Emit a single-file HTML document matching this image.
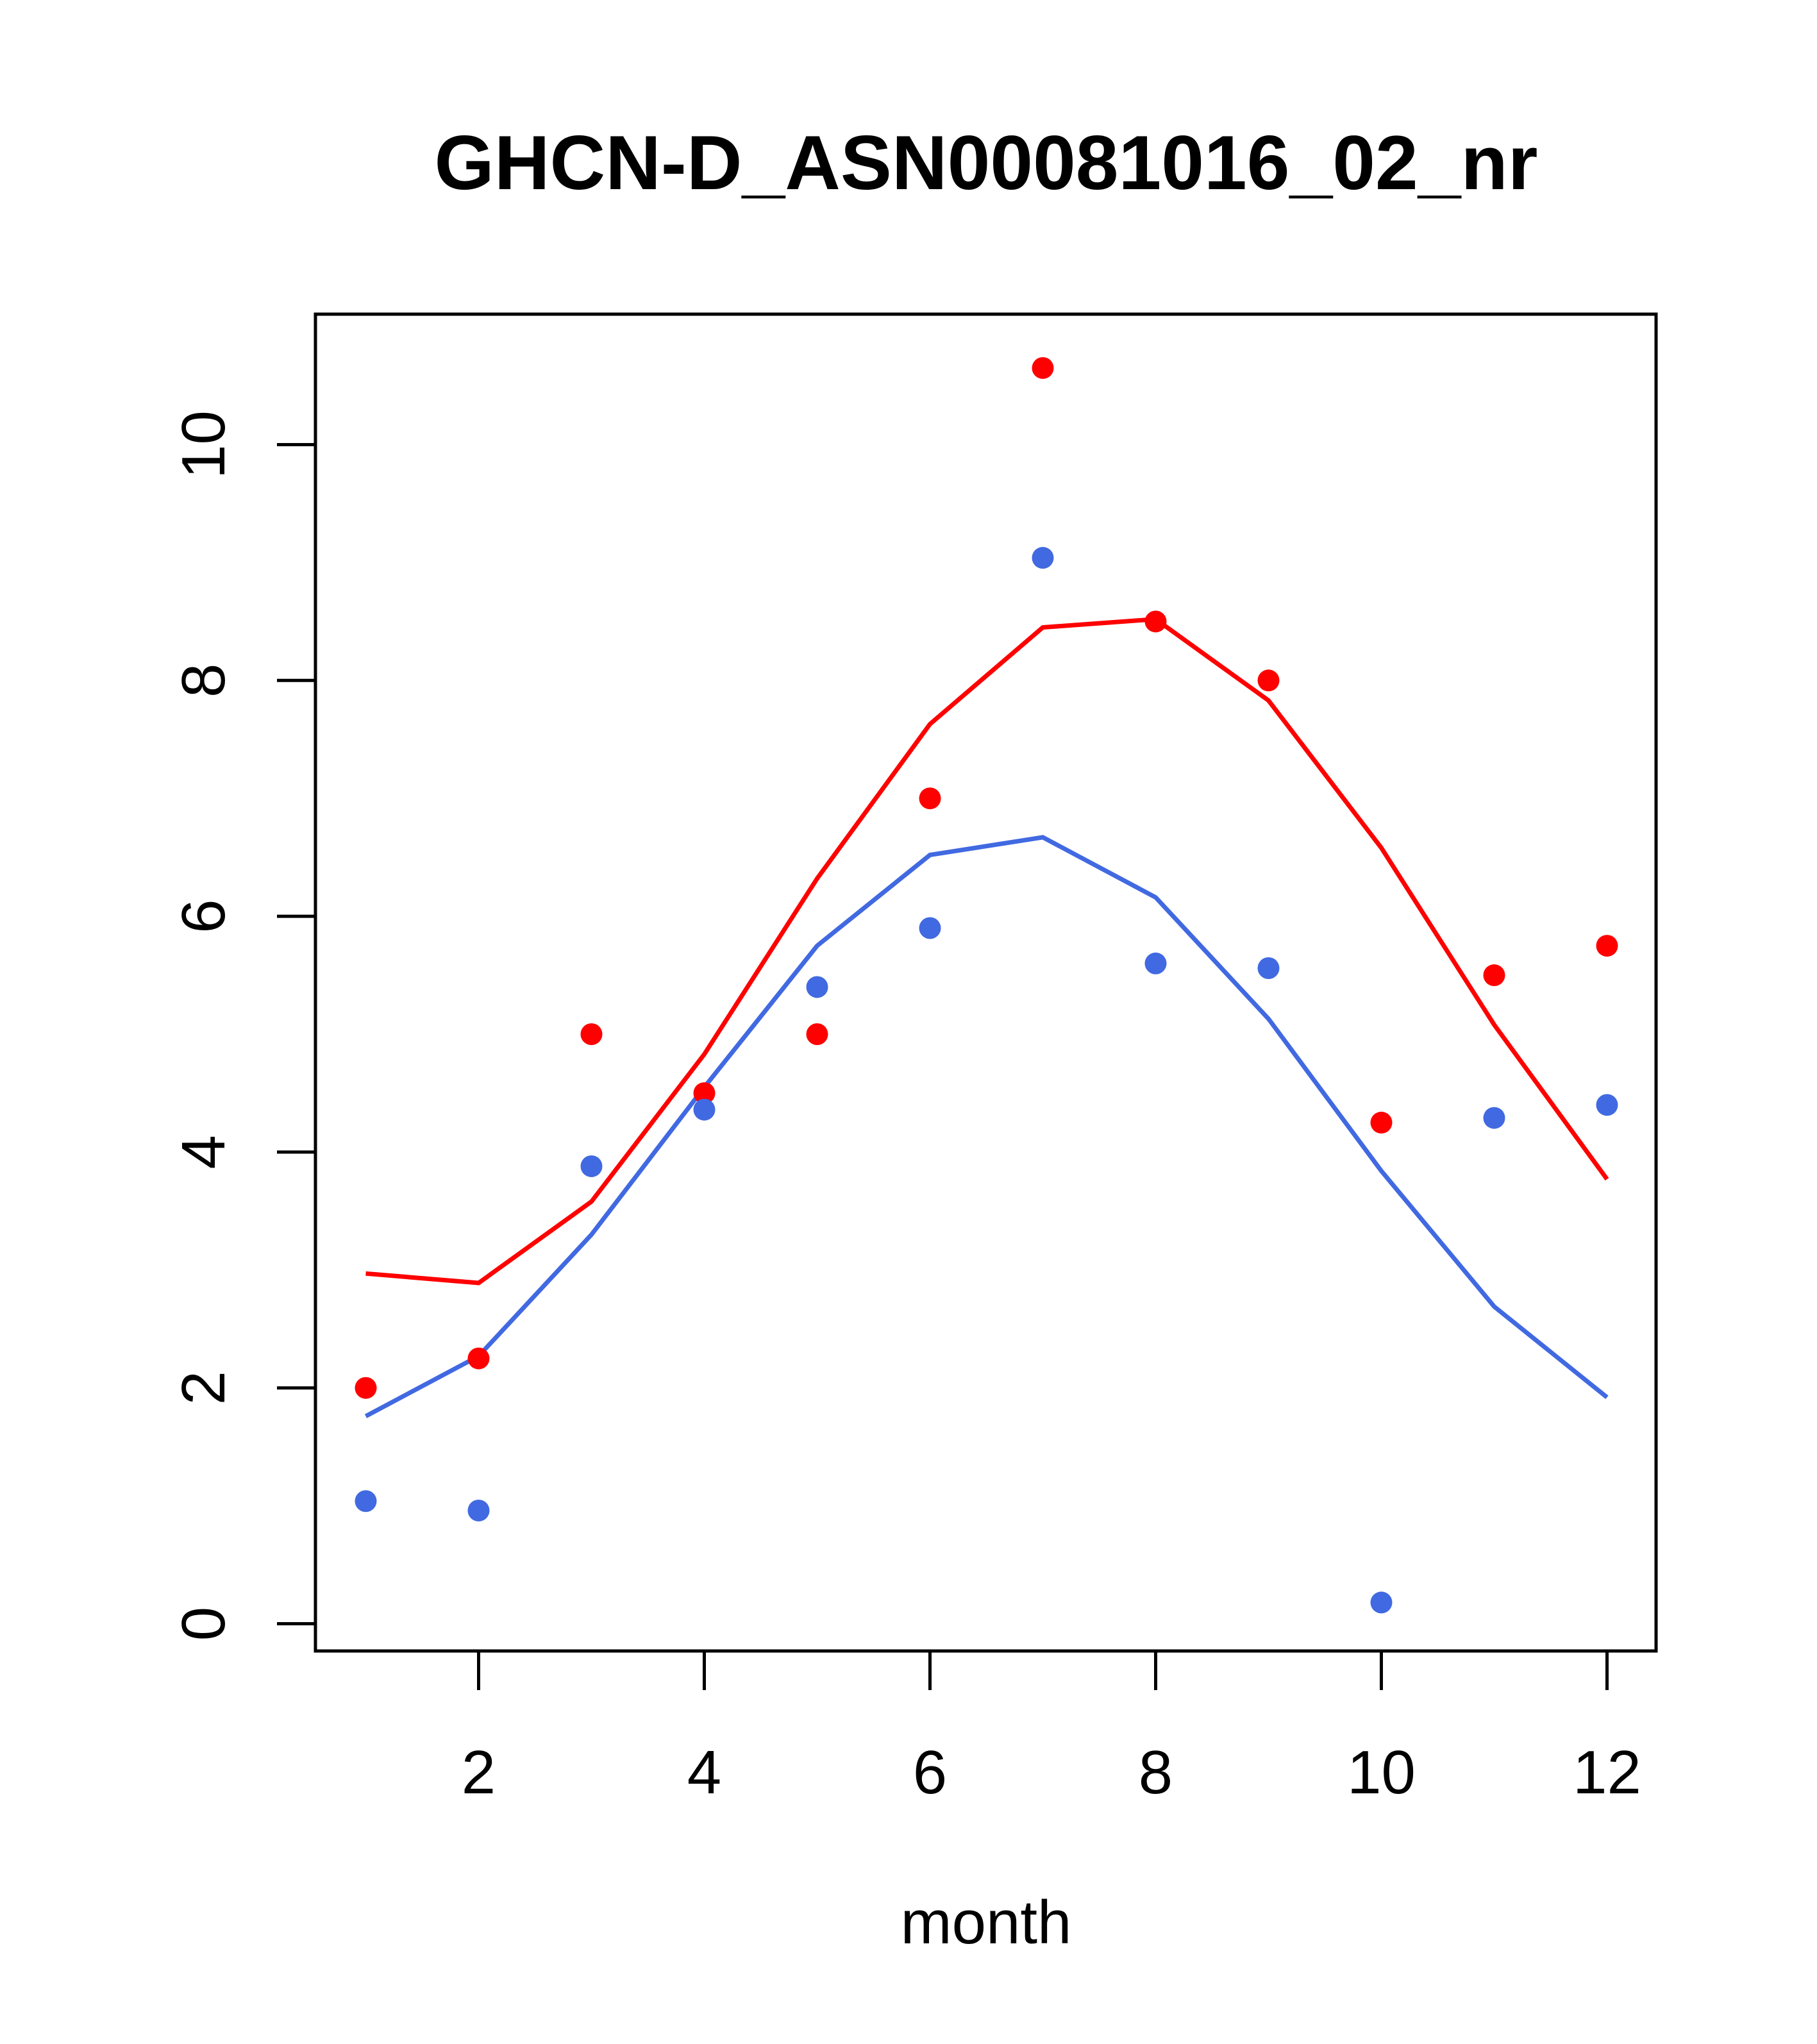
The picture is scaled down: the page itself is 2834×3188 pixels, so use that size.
<!DOCTYPE html>
<html><head><meta charset="utf-8"><style>html,body{margin:0;padding:0;background:#fff}svg{display:block}</style></head>
<body>
<svg id="chart" width="2834" height="3188" xmlns="http://www.w3.org/2000/svg" font-family="Liberation Sans, sans-serif">
<rect width="2834" height="3188" fill="#fff"/>
<text x="1538" y="295" font-size="120" font-weight="bold" text-anchor="middle">GHCN-D_ASN00081016_02_nr</text>
<rect x="492" y="490" width="2091" height="2085" fill="none" stroke="#000" stroke-width="5"/>
<text x="1538" y="3031" font-size="96" text-anchor="middle">month</text>
<g id="axes"></g>
<g id="marks"></g>
</svg>
<script>
const months=[1,2,3,4,5,6,7,8,9,10,11,12];
const redPoints=[2.0,2.25,5.0,4.5,5.0,7.0,10.65,8.5,8.0,4.25,5.5,5.75];
const redLine=[2.97,2.89,3.58,4.83,6.32,7.63,8.45,8.52,7.83,6.58,5.08,3.77];
const bluePoints=[1.04,0.96,3.88,4.36,5.40,5.90,9.04,5.60,5.56,0.18,4.29,4.40];
const blueLine=[1.76,2.27,3.30,4.55,5.75,6.52,6.67,6.16,5.13,3.84,2.69,1.92];
const xTicks=[2,4,6,8,10,12];
const yTicks=[0,2,4,6,8,10];
const NS="http://www.w3.org/2000/svg";
const xs=m=>746.5+(m-2)*176;
const ys=v=>2532.5-v*183.9;
const axes=document.getElementById('axes'),marks=document.getElementById('marks');
function mk(tag,attrs,parent){const e=document.createElementNS(NS,tag);for(const k in attrs)e.setAttribute(k,attrs[k]);parent.appendChild(e);return e;}
xTicks.forEach(t=>{
 const l=mk('line',{x1:xs(t),x2:xs(t),y1:2575,y2:2636,stroke:'#000','stroke-width':5},axes);
 
 
 const tx=mk('text',{x:xs(t),y:2797,'font-size':96,'text-anchor':'middle'},axes);tx.textContent=t;
 
 
});
yTicks.forEach(t=>{
 const l=mk('line',{x1:432,x2:492,y1:ys(t),y2:ys(t),stroke:'#000','stroke-width':5},axes);
 
 
 const tx=mk('text',{x:0,y:0,'font-size':96,'text-anchor':'middle',transform:`translate(350,${ys(t)}) rotate(-90)`},axes);tx.textContent=t;
 
 
});
function line(vals,col,name){
 const p=mk('polyline',{points:vals.map((v,i)=>xs(months[i])+','+ys(v)).join(' '),fill:'none',stroke:col,'stroke-width':7},marks);
 
 
}
function pts(vals,col,name){
 vals.forEach((v,i)=>{const c=mk('circle',{cx:xs(months[i]),cy:ys(v),r:17,fill:col},marks);
 
 });
}
line(redLine,'#ff0000','red-line');
line(blueLine,'#4169e1','blue-line');
pts(redPoints,'#ff0000','red-point');
pts(bluePoints,'#4169e1','blue-point');
</script>
</body></html>
